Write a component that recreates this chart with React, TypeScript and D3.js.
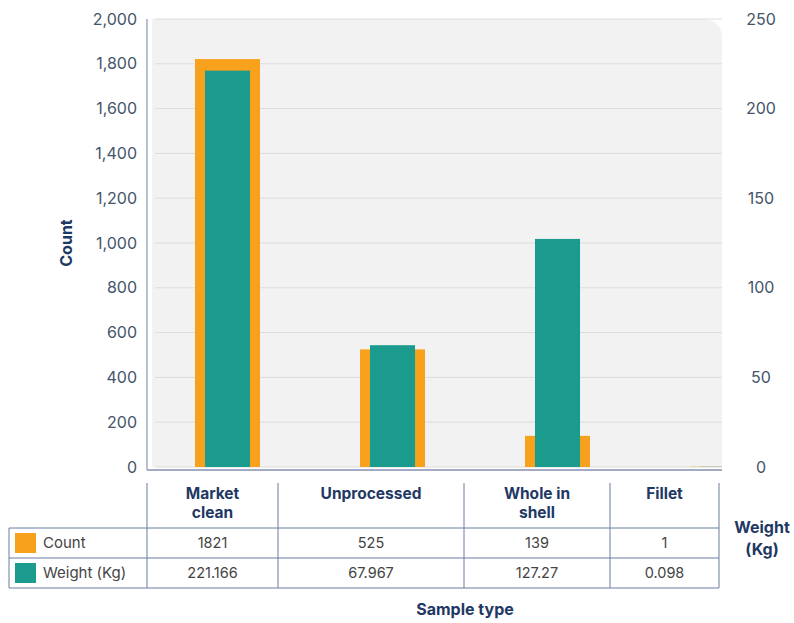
import React from "react";
import * as d3 from "d3";

const categories = ["Market clean", "Unprocessed", "Whole in shell", "Fillet"];
const headerLines = [["Market", "clean"], ["Unprocessed"], ["Whole in", "shell"], ["Fillet"]];
const countValues = [1821, 525, 139, 1];
const weightValues = [221.166, 67.967, 127.27, 0.098];
const weightLabels = ["221.166", "67.967", "127.27", "0.098"];
const leftTicks = [0, 200, 400, 600, 800, 1000, 1200, 1400, 1600, 1800, 2000];
const rightTicks = [0, 50, 100, 150, 200, 250];
const seriesNames = ["Count", "Weight (Kg)"];

const W = 794;
const H = 623;
const ORANGE = "#F7A11C";
const TEAL = "#1B9A8E";
const NAVY = "#1F3864";
const TICK = "#44546A";
const LINE = "#6B7AA1";
const FONT = "Inter, 'Open Sans', sans-serif";

export default function App() {
  const plotL = 152, plotR = 722, plotT = 19, plotB = 467;
  const yL = d3.scaleLinear().domain([0, 2000]).range([plotB, plotT]);
  const yR = d3.scaleLinear().domain([0, 250]).range([plotB, plotT]);
  const x = d3.scaleBand<string>().domain(categories).range([145, 805]).padding(0);
  const step = x.step();
  const oW = step * 0.394;
  const tW = step * 0.273;

  const cols = d3.scaleOrdinal<string, number>().domain(categories).range([147, 278, 464, 610]);
  const colEdges = [147, 278, 464, 610, 719];
  const tblTop = 483, hdrBot = 528, row1Bot = 558, row2Bot = 588, legL = 9;

  const r = 20;
  const bgPath = `M${plotL},${plotB} L${plotL},${plotT} L${plotR - r},${plotT} Q${plotR},${plotT} ${plotR},${plotT + r} L${plotR},${plotB} Z`;

  return (
    <svg width={W} height={H} style={{ position: "absolute", left: 0, top: 0, background: "#fff" }} fontFamily={FONT}>
      <defs>
        <clipPath id="plotclip"><path d={bgPath} /></clipPath>
      </defs>
      <path d={bgPath} fill="#F2F2F2" />
      {leftTicks.map((t) => (
        <line key={t} x1={plotL + 3} x2={plotR} y1={yL(t)} y2={yL(t)} stroke="#DCDCDC" strokeWidth={1} />
      ))}
      <g clipPath="url(#plotclip)">
        {categories.map((c, i) => {
          const cx = (x(c) as number) + x.bandwidth() / 2;
          return (
            <g key={c}>
              <rect x={cx - oW / 2} y={yL(countValues[i])} width={oW} height={plotB - yL(countValues[i])} fill={ORANGE} />
              <rect x={cx - tW / 2} y={yR(weightValues[i])} width={tW} height={plotB - yR(weightValues[i])} fill={TEAL} />
            </g>
          );
        })}
      </g>
      <line x1={147} x2={147} y1={plotT} y2={470} stroke="#A3ABC4" strokeWidth={1.5} />
      <line x1={147} x2={plotR} y1={470} y2={470} stroke="#A3ABC4" strokeWidth={2} />
      {leftTicks.map((t) => (
        <text key={t} x={137} y={yL(t)} dy="0.35em" textAnchor="end" fontSize={16} fill={TICK}>
          {d3.format(",")(t)}
        </text>
      ))}
      {rightTicks.map((t) => (
        <text key={t} x={761} y={yR(t)} dy="0.35em" textAnchor="middle" fontSize={16} fill={TICK}>
          {t}
        </text>
      ))}
      <text transform={`translate(72,${(plotT + plotB) / 2}) rotate(-90)`} textAnchor="middle" fontSize={16} fontWeight={700} fill={NAVY}>
        Count
      </text>
      {colEdges.map((cx, i) => (
        <line key={i} x1={cx} x2={cx} y1={tblTop} y2={row2Bot} stroke={LINE} strokeWidth={1} />
      ))}
      <line x1={legL} x2={legL} y1={hdrBot} y2={row2Bot} stroke={LINE} strokeWidth={1} />
      {[hdrBot, row1Bot, row2Bot].map((yy) => (
        <line key={yy} x1={legL} x2={719} y1={yy} y2={yy} stroke={LINE} strokeWidth={1} />
      ))}
      {categories.map((c, i) => {
        const left = cols(c);
        const right = colEdges[i + 1];
        const cx = (left + right) / 2;
        return (
          <g key={c}>
            {headerLines[i].map((ln, j) => (
              <text key={j} x={cx} y={499 + j * 19} textAnchor="middle" fontSize={15.5} fontWeight={700} fill={NAVY}>
                {ln}
              </text>
            ))}
            <text x={cx} y={(hdrBot + row1Bot) / 2} dy="0.35em" textAnchor="middle" fontSize={14.5} fill="#444">
              {countValues[i]}
            </text>
            <text x={cx} y={(row1Bot + row2Bot) / 2} dy="0.35em" textAnchor="middle" fontSize={14.5} fill="#444">
              {weightLabels[i]}
            </text>
          </g>
        );
      })}
      {seriesNames.map((s, i) => {
        const top = i === 0 ? hdrBot : row1Bot;
        return (
          <g key={s}>
            <rect x={15} y={top + 5} width={21} height={20} fill={i === 0 ? ORANGE : TEAL} />
            <text x={43} y={top + 15} dy="0.35em" fontSize={15} fill="#444">
              {s}
            </text>
          </g>
        );
      })}
      <text x={762} y={533} textAnchor="middle" fontSize={16} fontWeight={700} fill={NAVY}>Weight</text>
      <text x={762} y={555} textAnchor="middle" fontSize={16} fontWeight={700} fill={NAVY}>(Kg)</text>
      <text x={465} y={615} textAnchor="middle" fontSize={16} fontWeight={700} fill={NAVY}>Sample type</text>
    </svg>
  );
}
